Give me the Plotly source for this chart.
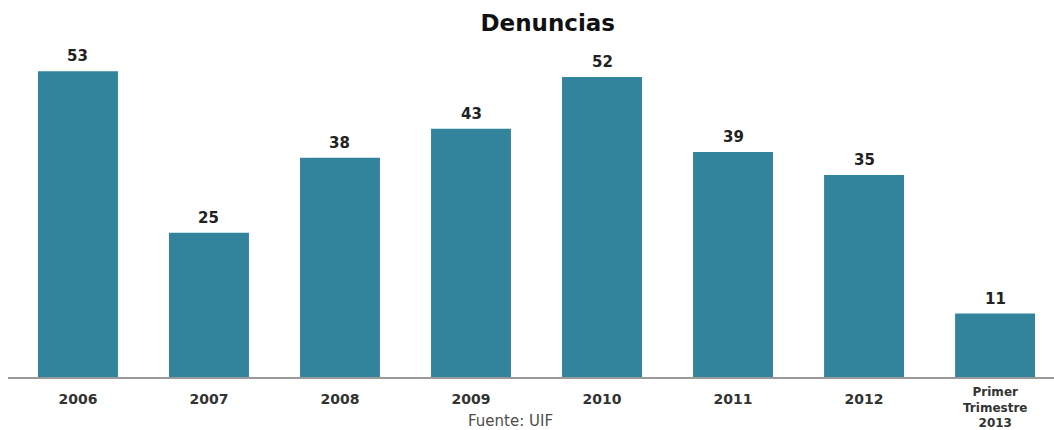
import plotly.graph_objects as go

# Denuncias por año (fuente: UIF)
categorias = ["2006", "2007", "2008", "2009", "2010", "2011", "2012", "Primer<br>Trimestre<br>2013"]
denuncias = [53, 25, 38, 43, 52, 39, 35, 11]

color_barra = "#31849B"
fuente = "DejaVu Sans"

posiciones = list(range(len(categorias)))

fig = go.Figure()
fig.add_trace(go.Bar(
    x=posiciones,
    y=denuncias,
    width=0.61,
    marker=dict(color=color_barra, line=dict(width=0)),
    hoverinfo="skip",
))

# Valor sobre cada barra
for xi, v in zip(posiciones, denuncias):
    fig.add_annotation(
        x=xi, y=v, xref="x", yref="y",
        text=str(v), showarrow=False,
        yanchor="bottom", yshift=4,
        font=dict(family=fuente, size=15, color="#222222", weight="bold"),
    )

# Las etiquetas de una línea van como ticks del eje; las de varias líneas
# se escriben con un tamaño algo menor para que quepan bajo el eje.
ticktext = [c if "<br>" not in c else "" for c in categorias]
for xi, c in zip(posiciones, categorias):
    if "<br>" in c:
        fig.add_annotation(
            x=xi, y=0, xref="x", yref="paper",
            text=c, showarrow=False,
            xanchor="center", yanchor="top", yshift=-6,
            font=dict(family=fuente, size=12, color="#333333", weight="bold"),
        )

# Nota de fuente bajo el eje
fig.add_annotation(
    x=0.48, y=-0.13, xref="paper", yref="paper",
    text="Fuente: UIF", showarrow=False,
    xanchor="center", yanchor="middle",
    font=dict(family=fuente, size=15, color="#4d4d4d"),
)

fig.update_layout(
    width=1054, height=430,
    margin=dict(l=8, r=0, t=40, b=53),
    paper_bgcolor="white", plot_bgcolor="white",
    showlegend=False,
    title=dict(
        text="Denuncias",
        x=0.516, xanchor="center", xref="paper",
        y=1 - 23 / 430, yanchor="middle", yref="container",
        font=dict(family=fuente, size=23, color="#111111", weight="bold"),
    ),
    xaxis=dict(
        range=[-0.534, 7.45],
        automargin=False,
        tickmode="array", tickvals=posiciones, ticktext=ticktext,
        ticks="outside", ticklen=8, tickcolor="rgba(0,0,0,0)",
        showline=True, linecolor="#9a9a9a", linewidth=2,
        showgrid=False, zeroline=False,
        tickfont=dict(family=fuente, size=14, color="#333333", weight="bold"),
    ),
    yaxis=dict(
        range=[0, 58.4],
        automargin=False,
        visible=False, showgrid=False, zeroline=False,
    ),
)

fig.write_html("out.html")
